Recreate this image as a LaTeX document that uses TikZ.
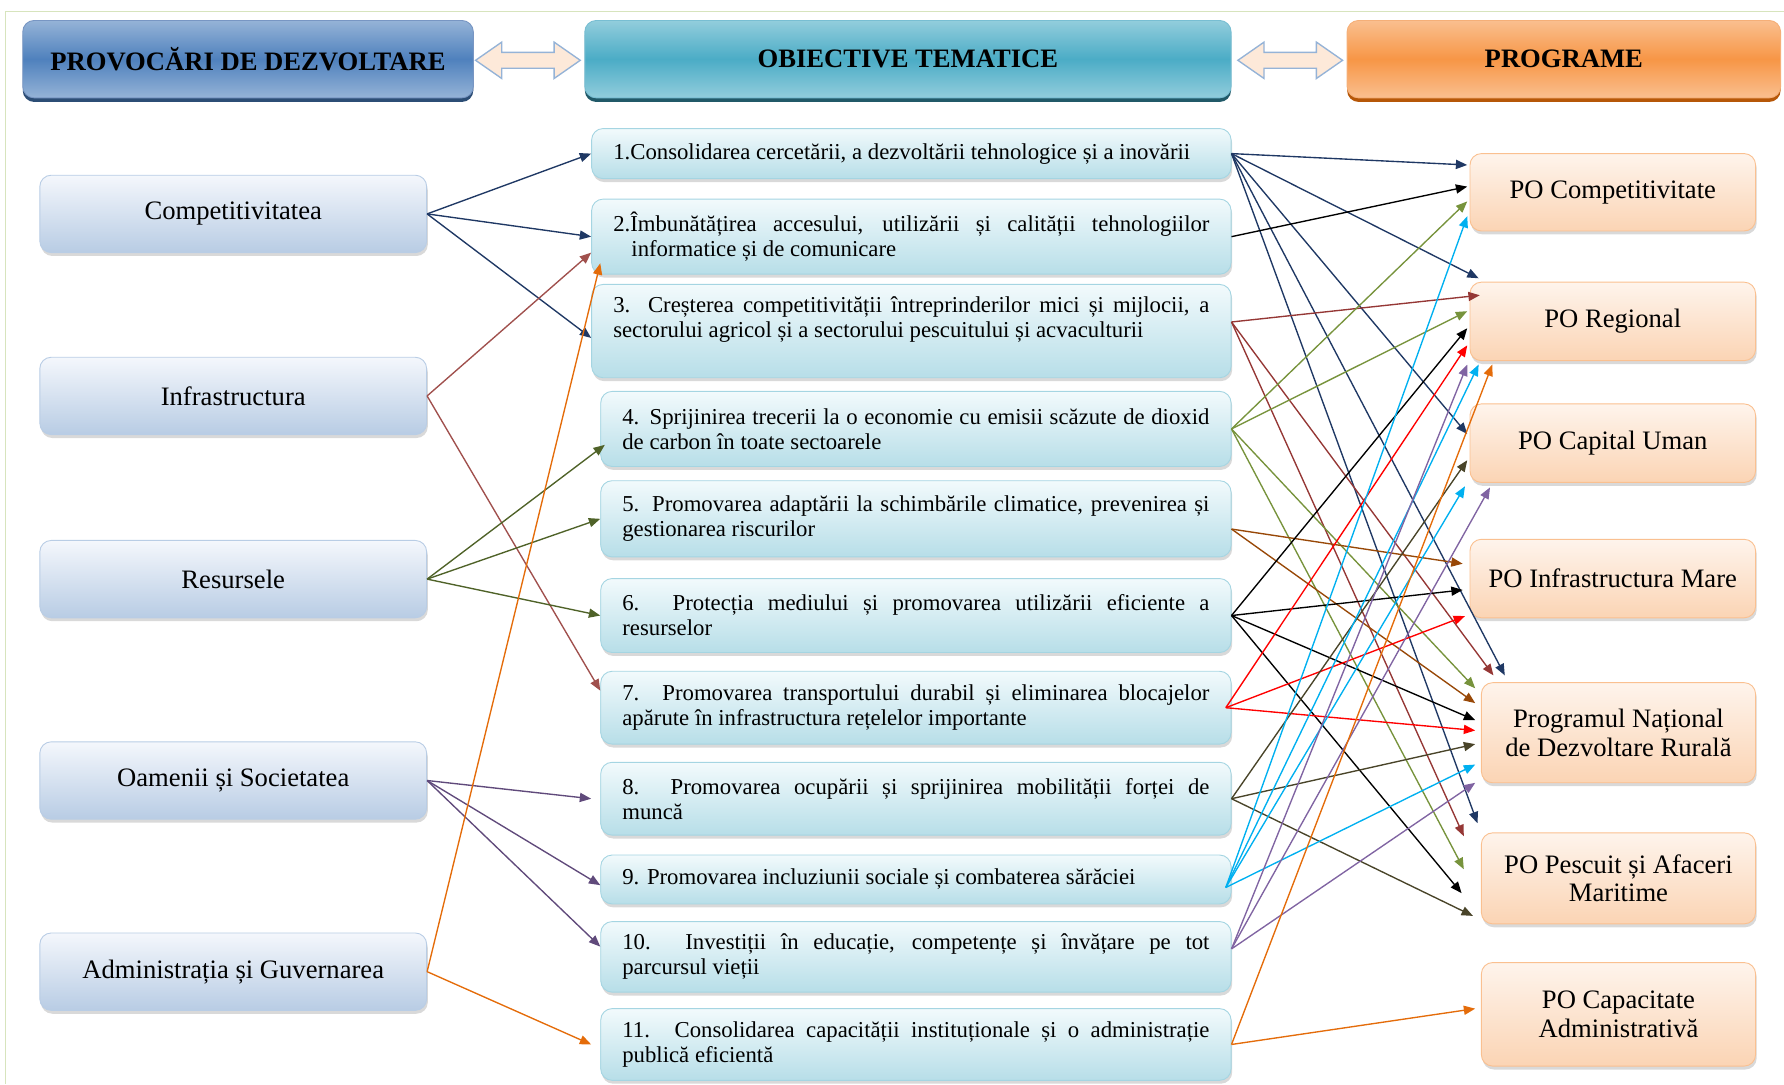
\documentclass[tikz,border=0pt]{standalone}
\usepackage{fontspec}
\setmainfont{Liberation Serif}
\usetikzlibrary{arrows.meta,calc,shadows}

\begin{document}
\begin{tikzpicture}[x=0.5pt,y=0.5pt,yscale=-1,xscale=1,
  lnk/.style={line width=0.6pt,-{Triangle[length=5pt,width=4pt]}},
  navyln/.style={color={rgb, 255:red, 31; green, 56; blue, 100 }},
  blackln/.style={color={rgb, 255:red, 0; green, 0; blue, 0 }},
  brickln/.style={color={rgb, 255:red, 160; green, 80; blue, 77 }},
  darkredln/.style={color={rgb, 255:red, 149; green, 55; blue, 53 }},
  oliveln/.style={color={rgb, 255:red, 79; green, 98; blue, 40 }},
  greenln/.style={color={rgb, 255:red, 119; green, 147; blue, 60 }},
  brownln/.style={color={rgb, 255:red, 152; green, 72; blue, 7 }},
  redln/.style={color={rgb, 255:red, 255; green, 0; blue, 0 }},
  khakiln/.style={color={rgb, 255:red, 73; green, 68; blue, 41 }},
  cyanln/.style={color={rgb, 255:red, 0; green, 176; blue, 240 }},
  purpleln/.style={color={rgb, 255:red, 96; green, 74; blue, 123 }},
  violetln/.style={color={rgb, 255:red, 128; green, 100; blue, 162 }},
  orangeln/.style={color={rgb, 255:red, 228; green, 108; blue, 10 }},
  headbox/.style={rounded corners=5pt, minimum height=34pt, inner sep=0pt, font=\fontsize{11.7}{13}\selectfont\bfseries},
  leftbox/.style={draw={rgb, 255:red, 185; green, 205; blue, 229 }, rounded corners=5pt,
    top color={rgb, 255:red, 244; green, 247; blue, 252 }, bottom color={rgb, 255:red, 184; green, 204; blue, 228 },
    minimum width=170pt, minimum height=34pt, font=\fontsize{11.7}{13}\selectfont,
    drop shadow={shadow xshift=0.5pt, shadow yshift=-1.5pt, opacity=0.3}},
  midbox/.style={draw={rgb, 255:red, 165; green, 213; blue, 226 }, rounded corners=5pt,
    top color={rgb, 255:red, 242; green, 250; blue, 252 }, bottom color={rgb, 255:red, 183; green, 222; blue, 232 },
    text width=#1, inner xsep=9.5pt, inner ysep=1pt, align=justify, font=\fontsize{10}{11}\selectfont,
    drop shadow={shadow xshift=0.5pt, shadow yshift=-1.5pt, opacity=0.3}},
  rightbox/.style={draw={rgb, 255:red, 250; green, 192; blue, 144 }, rounded corners=5pt,
    top color={rgb, 255:red, 254; green, 244; blue, 236 }, bottom color={rgb, 255:red, 251; green, 212; blue, 180 },
    align=center, inner sep=1pt, font=\fontsize{11.7}{12.5}\selectfont,
    drop shadow={shadow xshift=0.5pt, shadow yshift=-1.5pt, opacity=0.3}}
]
\useasboundingbox (0,0) rectangle (1568,953);
%Straight Lines
\draw [color={rgb, 255:red, 215; green, 228; blue, 189 }, line width=0.6pt] (1568,10) -- (5,10) -- (5,953);

% Text Node
\node [headbox, draw={rgb, 255:red, 120; green, 150; blue, 195 }, top color={rgb, 255:red, 149; green, 179; blue, 215 }, bottom color={rgb, 255:red, 149; green, 179; blue, 215 }, middle color={rgb, 255:red, 79; green, 129; blue, 189 }, drop shadow={shadow xshift=0pt, shadow yshift=-1.8pt, opacity=1, fill={rgb, 255:red, 44; green, 77; blue, 117 }}, minimum width=198pt] (hprov) at (218,52) {PROVOCĂRI DE DEZVOLTARE};
% Text Node
\node [headbox, draw={rgb, 255:red, 120; green, 190; blue, 210 }, top color={rgb, 255:red, 146; green, 205; blue, 220 }, bottom color={rgb, 255:red, 146; green, 205; blue, 220 }, middle color={rgb, 255:red, 75; green, 172; blue, 198 }, drop shadow={shadow xshift=0pt, shadow yshift=-1.8pt, opacity=1, fill={rgb, 255:red, 33; green, 89; blue, 104 }}, minimum width=284pt] (hobj) at (798,52) {OBIECTIVE TEMATICE};
% Text Node
\node [headbox, draw={rgb, 255:red, 245; green, 175; blue, 120 }, top color={rgb, 255:red, 250; green, 191; blue, 143 }, bottom color={rgb, 255:red, 250; green, 191; blue, 143 }, middle color={rgb, 255:red, 247; green, 150; blue, 70 }, drop shadow={shadow xshift=0pt, shadow yshift=-1.8pt, opacity=1, fill={rgb, 255:red, 182; green, 87; blue, 8 }}, minimum width=190.5pt] (hprog) at (1374.5,52) {PROGRAME};

%Shape: Double Arrow
\draw [draw={rgb, 255:red, 149; green, 179; blue, 215 }, fill={rgb, 255:red, 253; green, 233; blue, 217 }, line width=0.6pt] (418,53) -- (441,37) -- (441,46) -- (487,46) -- (487,37) -- (510,53) -- (487,69) -- (487,60) -- (441,60) -- (441,69) -- cycle ;
%Shape: Double Arrow
\draw [draw={rgb, 255:red, 149; green, 179; blue, 215 }, fill={rgb, 255:red, 253; green, 233; blue, 217 }, line width=0.6pt] (1088,53) -- (1111,37) -- (1111,46) -- (1157,46) -- (1157,37) -- (1180,53) -- (1157,69) -- (1157,60) -- (1111,60) -- (1111,69) -- cycle ;

% Text Node
\node [leftbox] (comp) at (205,188) {Competitivitatea};
\node [leftbox] (infra) at (205,348) {Infrastructura};
\node [leftbox] (res) at (205,509) {Resursele};
\node [leftbox] (oam) at (205,686) {Oamenii și Societatea};
\node [leftbox] (adm) at (205,854) {Administrația și Guvernarea};

% Text Node
\node [midbox=262pt, minimum height=22pt] (o1) at (801,135) {1.Consolidarea cercetării, a dezvoltării tehnologice și a inovării};
\node [midbox=262pt, minimum height=33pt] (o2) at (801,208) {2.Îmbunătățirea accesului, utilizării și calității tehnologiilor\linebreak \hspace*{8pt}informatice și de comunicare};
\node [midbox=262pt, minimum height=41pt, text depth=23pt] (o3) at (801,291) {3. Creșterea competitivității întreprinderilor mici și mijlocii, a\linebreak sectorului agricol și a sectorului pescuitului și acvaculturii};
\node [midbox=258pt, minimum height=33pt] (o4) at (805,377) {4. Sprijinirea trecerii la o economie cu emisii scăzute de dioxid\linebreak de carbon în toate sectoarele};
\node [midbox=258pt, minimum height=33.5pt] (o5) at (805,456) {5. Promovarea adaptării la schimbările climatice, prevenirea și\linebreak gestionarea riscurilor};
\node [midbox=258pt, minimum height=32.5pt] (o6) at (805,541) {6. Protecția mediului și promovarea utilizării eficiente a\linebreak resurselor};
\node [midbox=258pt, minimum height=32pt] (o7) at (805,622) {7. Promovarea transportului durabil și eliminarea blocajelor\linebreak apărute în infrastructura rețelelor importante};
\node [midbox=258pt, minimum height=32pt] (o8) at (805,702) {8. Promovarea ocupării și sprijinirea mobilității forței de\linebreak muncă};
\node [midbox=258pt, minimum height=21.5pt] (o9) at (805,773) {9. Promovarea incluziunii sociale și combaterea sărăciei};
\node [midbox=258pt, minimum height=31pt] (o10) at (805,841) {10. Investiții în educație, competențe și învățare pe tot\linebreak parcursul vieții};
\node [midbox=258pt, minimum height=31.5pt] (o11) at (805,918) {11. Consolidarea capacității instituționale și o administrație\linebreak publică eficientă};

% Text Node
\node [rightbox, minimum width=125.5pt, minimum height=34pt] (pc) at (1417.5,169) {PO Competitivitate};
\node [rightbox, minimum width=125.5pt, minimum height=34.5pt] (pr) at (1417.5,282.5) {PO Regional};
\node [rightbox, minimum width=125.5pt, minimum height=34.5pt] (pcu) at (1417.5,389.5) {PO Capital Uman};
\node [rightbox, minimum width=125.5pt, minimum height=34.5pt] (pim) at (1417.5,508.5) {PO Infrastructura Mare};
\node [rightbox, minimum width=120.5pt, minimum height=44pt] (pndr) at (1422.5,644) {Programul Național\\de Dezvoltare Rurală};
\node [rightbox, minimum width=120.5pt, minimum height=40pt] (pesc) at (1422.5,772) {PO Pescuit și Afaceri\\Maritime};
\node [rightbox, minimum width=120.5pt, minimum height=45.5pt] (pca) at (1422.5,891.5) {PO Capacitate\\Administrativă};

%Straight Lines
\draw [lnk, navyln] (comp.east) -- (o1.west);
\draw [lnk, navyln] (comp.east) -- (o2.west);
\draw [lnk, navyln] (comp.east) -- ($(o3.west)+(0,6)$);
\draw [lnk, brickln] (infra.east) -- ($(o2.west)+(0,14)$);
\draw [lnk, brickln] (infra.east) -- ($(o7.west)+(0,-15)$);
\draw [lnk, oliveln] (res.east) -- ($(o4.west)+(4,14)$);
\draw [lnk, oliveln] (res.east) -- (o5.west);
\draw [lnk, oliveln] (res.east) -- (o6.west);
\draw [lnk, purpleln] (oam.east) -- ($(o8.west)+(-8,0)$);
\draw [lnk, purpleln] (oam.east) -- ($(o9.west)+(0,5)$);
\draw [lnk, purpleln] (oam.east) -- ($(o10.west)+(0,-9)$);
\draw [lnk, orangeln] (adm.east) -- ($(o2.south west)+(8,-10)$);
\draw [lnk, orangeln] (adm.east) -- ($(o11.west)+(-8,0)$);

%Straight Lines
\draw [lnk, navyln] (o1.east) -- ($(pc.west)+(-2,-24)$);
\draw [lnk, navyln] (o1.east) -- ($(pr.north west)+(8,-3)$);
\draw [lnk, navyln] (o1.east) -- ($(pcu.west)+(-2,-8)$);
\draw [lnk, navyln] (o1.east) -- ($(pndr.north west)+(21,-6)$);
\draw [lnk, navyln] (o1.east) -- ($(pesc.north west)+(-3,-8)$);
\draw [lnk, blackln] (o2.east) -- ($(pc.west)+(-2,-5)$);
\draw [lnk, darkredln] ($(o3.east)+(0,-8)$) -- ($(pr.west)+(9,-23)$);
\draw [lnk, darkredln] ($(o3.east)+(0,-8)$) -- ($(pndr.north west)+(11,-6)$);
\draw [lnk, darkredln] ($(o3.east)+(0,-8)$) -- ($(pesc.west)+(-15,-37)$);
\draw [lnk, greenln] (o4.east) -- ($(pc.west)+(-2,8)$);
\draw [lnk, greenln] (o4.east) -- ($(pr.west)+(-2,-9)$);
\draw [lnk, greenln] (o4.east) -- ($(pndr.west)+(-5,-39)$);
\draw [lnk, greenln] (o4.east) -- ($(pesc.west)+(-15,-8)$);
\draw [lnk, brownln] ($(o5.east)+(0,9)$) -- ($(pim.west)+(-6,-13)$);
\draw [lnk, brownln] ($(o5.east)+(0,9)$) -- ($(pndr.west)+(-5,-26)$);
\draw [lnk, blackln] (o6.east) -- ($(pr.west)+(-2,6)$);
\draw [lnk, blackln] (o6.east) -- ($(pim.west)+(-6,10)$);
\draw [lnk, blackln] (o6.east) -- ($(pndr.west)+(-5,-11)$);
\draw [lnk, blackln] (o6.east) -- ($(pesc.west)+(-17,13)$);
\draw [lnk, redln] ($(o7.east)+(-5,0)$) -- ($(pr.west)+(-2,21)$);
\draw [lnk, redln] ($(o7.east)+(-5,0)$) -- ($(pim.west)+(-4,33)$);
\draw [lnk, redln] ($(o7.east)+(-5,0)$) -- ($(pndr.west)+(-5,-2)$);
\draw [lnk, khakiln] (o8.east) -- ($(pcu.west)+(-2,15)$);
\draw [lnk, khakiln] (o8.east) -- ($(pndr.west)+(-5,10)$);
\draw [lnk, khakiln] (o8.east) -- ($(pesc.west)+(-7,33)$);
\draw [lnk, cyanln] ($(o9.east)+(-5,7)$) -- ($(pc.west)+(-2,21)$);
\draw [lnk, cyanln] ($(o9.east)+(-5,7)$) -- ($(pr.south west)+(8,3)$);
\draw [lnk, cyanln] ($(o9.east)+(-5,7)$) -- ($(pcu.south west)+(-4,3)$);
\draw [lnk, cyanln] ($(o9.east)+(-5,7)$) -- ($(pndr.west)+(-5,28)$);
\draw [lnk, violetln] ($(o10.east)+(0,-7)$) -- ($(pr.south west)+(-2,3)$);
\draw [lnk, violetln] ($(o10.east)+(0,-7)$) -- ($(pcu.south west)+(18,4)$);
\draw [lnk, violetln] ($(o10.east)+(0,-7)$) -- ($(pndr.west)+(-5,44)$);
\draw [lnk, orangeln] (o11.east) -- ($(pr.south west)+(20,3)$);
\draw [lnk, orangeln] (o11.east) -- ($(pca.west)+(-5,-5)$);
\end{tikzpicture}
\end{document}
